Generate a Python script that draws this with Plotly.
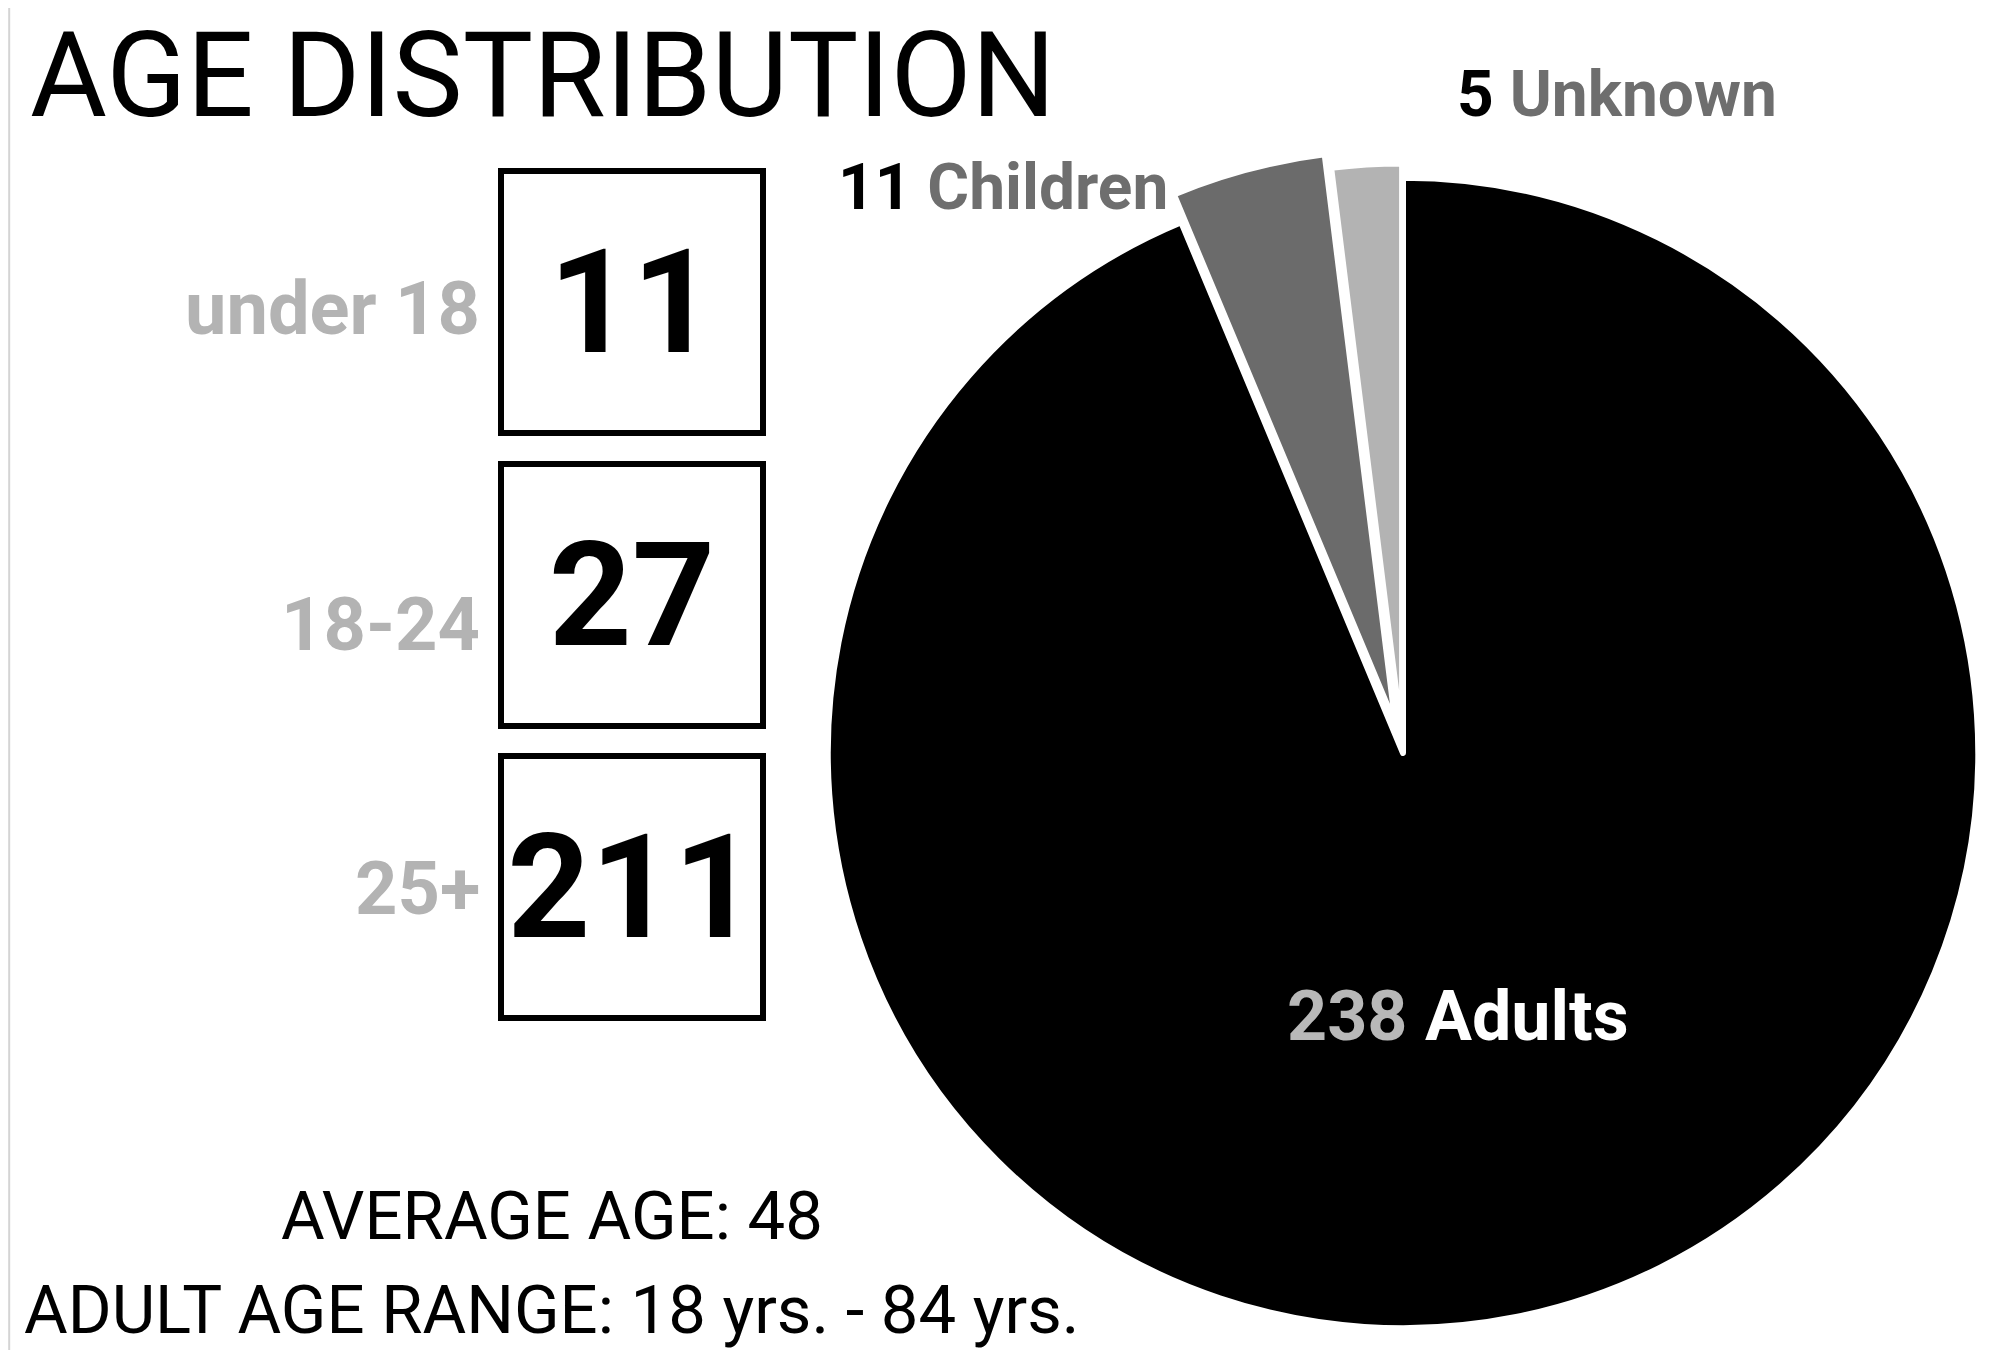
import plotly.graph_objects as go

# ---- data ----
pie_labels = ["Adults", "Children", "Unknown"]
pie_values = [238, 11, 5]
age_groups = ["under 18", "18-24", "25+"]
age_counts = [11, 27, 211]
average_age = 48
adult_age_min = 18
adult_age_max = 84
title_text = "AGE DISTRIBUTION"

# ---- styling ----
W, H = 1999, 1350
FONT = "Roboto, Liberation Sans, sans-serif"
slice_colors = ["#000000", "#6b6b6b", "#b3b3b3"]
pulls = [0, 0.05, 0.025]


def px(x):
    return x / W


def py(y):
    return 1 - y / H


cx, cy, half = 1395, 745, 604

fig = go.Figure()
fig.add_trace(go.Pie(
    labels=pie_labels,
    values=pie_values,
    sort=False,
    direction="clockwise",
    rotation=0,
    pull=pulls,
    marker=dict(colors=slice_colors, line=dict(color="white", width=6)),
    textinfo="none",
    showlegend=False,
    domain=dict(x=[px(cx - half), 1], y=[py(cy + half), py(cy - half)]),
))

ann = []
# title
ann.append(dict(text=title_text, x=px(20), y=py(68), xanchor="left", yanchor="middle",
                font=dict(family=FONT, size=118, color="#000000")))

# pie labels
label_pos = {
    "Children": dict(x=px(1162), y=py(180), xanchor="right"),
    "Unknown": dict(x=px(1447), y=py(86), xanchor="left"),
}
for lab, val in zip(pie_labels, pie_values):
    if lab == "Adults":
        ann.append(dict(text=f"<span style='color:#b8b8b8'>{val}</span> {lab}",
                        x=px(1450), y=py(1008), xanchor="center", yanchor="middle",
                        font=dict(family=FONT, size=70, color="#ffffff", weight=700)))
    else:
        p = label_pos[lab]
        ann.append(dict(text=f"<span style='color:#000000'>{val}</span> {lab}",
                        x=p["x"], y=p["y"], xanchor=p["xanchor"], yanchor="middle",
                        font=dict(family=FONT, size=64, color="#6e6e6e", weight=700)))

# boxes with counts and group labels
box_centers = [294, 587, 879]
for grp, cnt, yc in zip(age_groups, age_counts, box_centers):
    ann.append(dict(text=f"<b>{cnt}</b>", x=px(624), y=py(yc), xanchor="center", yanchor="middle",
                    width=256, height=256, borderwidth=6, borderpad=0, bordercolor="#000000",
                    bgcolor="#ffffff",
                    font=dict(family=FONT, size=145, color="#000000")))
label_centers = [300, 616, 880]
for grp, yc in zip(age_groups, label_centers):
    ann.append(dict(text=f"<b>{grp}</b>", x=px(474), y=py(yc), xanchor="right", yanchor="middle",
                    font=dict(family=FONT, size=74, color="#b3b3b3")))

# bottom notes
ann.append(dict(text=f"AVERAGE AGE: {average_age}", x=px(544), y=py(1208),
                xanchor="center", yanchor="middle",
                font=dict(family=FONT, size=67, color="#000000")))
ann.append(dict(text=f"ADULT AGE RANGE: {adult_age_min} yrs. - {adult_age_max} yrs.", x=px(543), y=py(1302),
                xanchor="center", yanchor="middle",
                font=dict(family=FONT, size=67, color="#000000")))

for a in ann:
    a.update(xref="paper", yref="paper", showarrow=False)

fig.update_layout(
    width=W, height=H,
    margin=dict(l=0, r=0, t=0, b=0),
    paper_bgcolor="#ffffff",
    plot_bgcolor="#ffffff",
    annotations=ann,
    shapes=[dict(type="line", xref="paper", yref="paper", x0=0.0006, x1=0.0006, y0=0, y1=1,
                 line=dict(color="#d4d4d4", width=2))],
)

fig.write_html("out.html")
